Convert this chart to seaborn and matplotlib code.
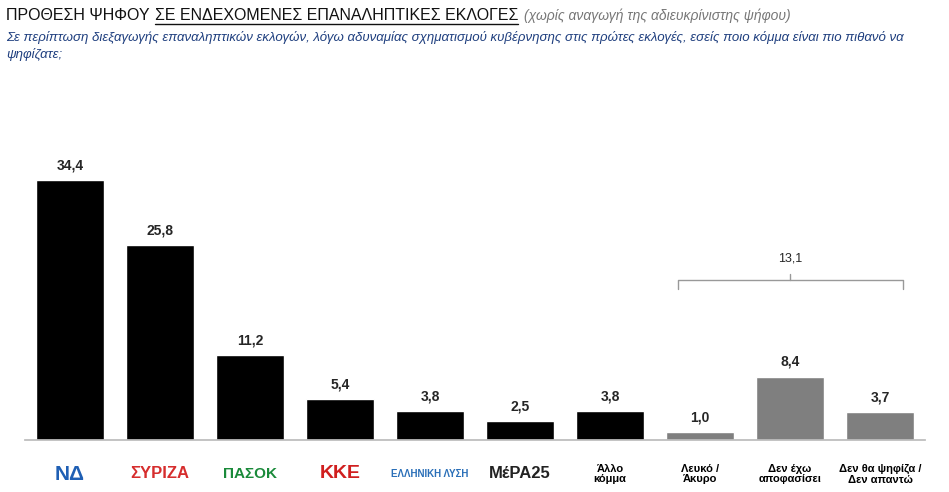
import matplotlib
matplotlib.use("Agg")
import matplotlib.pyplot as plt
import seaborn as sns
import pandas as pd

sns.set_theme(style="white")
plt.rcParams["font.family"] = ["Liberation Sans", "DejaVu Sans"]

parties = ["ΝΔ", "ΣΥΡΙΖΑ", "ΠΑΣΟΚ", "ΚΚΕ", "ΕΛΛΗΝΙΚΗ ΛΥΣΗ", "ΜέΡΑ25",
           "Άλλο\nκόμμα", "Λευκό /\nΆκυρο", "Δεν έχω\nαποφασίσει", "Δεν θα ψηφίζα /\nΔεν απαντώ"]
values = [34.4, 25.8, 11.2, 5.4, 3.8, 2.5, 3.8, 1.0, 8.4, 3.7]
bar_colors = ["#000000"] * 7 + ["#7f7f7f"] * 3
label_colors = ["#1f5fb4", "#d62d2d", "#1a8a3a", "#d01f1f", "#2a6fb8", "#222222",
                "#000000", "#000000", "#000000", "#000000"]
label_sizes = [15, 12, 11, 14, 7, 12, 8, 8, 8, 8]
group_total = 13.1

df = pd.DataFrame({"party": parties, "value": values})

fig = plt.figure(figsize=(9.49, 4.92), dpi=100)
ax = fig.add_axes([25 / 949, 52 / 492, 900 / 949, 340 / 492])
sns.barplot(data=df, x="party", y="value", hue="party", palette=bar_colors,
            legend=False, width=0.75, ax=ax, saturation=1)
ax.set_ylim(0, 45)
ax.set_xlim(-0.5, 9.5)
ax.set_xlabel("")
ax.set_ylabel("")
ax.set_yticks([])
ax.set_xticks([])
for s in ["top", "right", "left"]:
    ax.spines[s].set_visible(False)
ax.spines["bottom"].set_color("#bbbbbb")

for i, v in enumerate(values):
    ax.text(i, v + 1.0, f"{v:.1f}".replace(".", ","), ha="center", va="bottom",
            fontsize=10, fontweight="bold")

trans = ax.get_xaxis_transform()
for i, (lab, c, fs) in enumerate(zip(parties, label_colors, label_sizes)):
    ax.text(i, -0.1, lab, transform=trans, ha="center", va="center", color=c,
            fontsize=fs, fontweight="bold", linespacing=1.1)

# bracket over last three bars
bx0, bx1 = 7 - 0.25, 9 + 0.25
yb = 20.0
ax.plot([bx0, bx0, bx1, bx1], [yb, yb + 1.2, yb + 1.2, yb], color="#999999", lw=1)
ax.plot([8, 8], [yb + 1.2, yb + 2.0], color="#999999", lw=1)
ax.text(8, yb + 3.2, f"{group_total:.1f}".replace(".", ","), ha="center",
        va="bottom", fontsize=9)

# title pieces, placed one after another
renderer = fig.canvas.get_renderer()
ty = 1 - 16 / 492
t1 = fig.text(6 / 949, ty, "ΠΡΟΘΕΣΗ ΨΗΦΟΥ", fontsize=11.5, va="center", color="#111111")
x1 = t1.get_window_extent(renderer).x1 / 949 + 5 / 949
t2 = fig.text(x1, ty, "ΣΕ ΕΝΔΕΧΟΜΕΝΕΣ ΕΠΑΝΑΛΗΠΤΙΚΕΣ ΕΚΛΟΓΕΣ", fontsize=11.5,
              va="center", color="#111111")
x2 = t2.get_window_extent(renderer).x1 / 949
fig.add_artist(plt.Line2D([x1, x2], [1 - 24 / 492] * 2, color="#111111", lw=1))
fig.text(x2 + 6 / 949, ty, "(χωρίς αναγωγή της αδιευκρίνιστης ψήφου)",
         fontsize=10, style="italic", color="#777777", va="center")
fig.text(6 / 949, 1 - 46 / 492,
         "Σε περίπτωση διεξαγωγής επαναληπτικών εκλογών, λόγω αδυναμίας σχηματισμού κυβέρνησης στις πρώτες εκλογές, εσείς ποιο κόμμα είναι πιο πιθανό να\nψηφίζατε;",
         fontsize=9.5, style="italic", color="#1f3f7f", va="center", linespacing=1.4)

fig.savefig("out.png", dpi=100)
